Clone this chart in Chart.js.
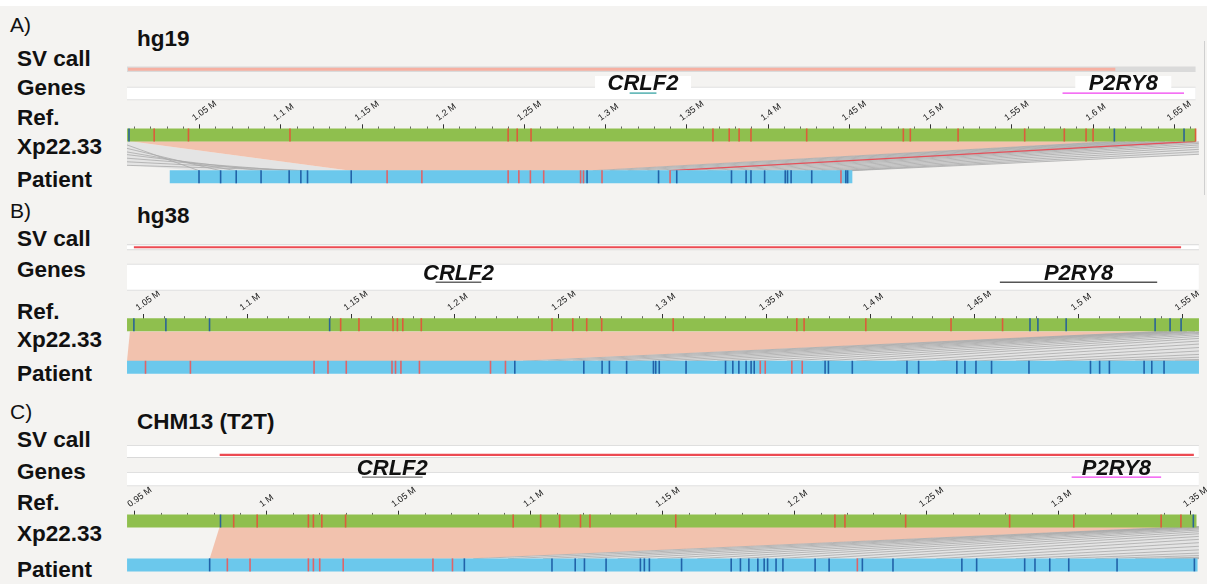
<!DOCTYPE html>
<html>
<head>
<meta charset="utf-8">
<script src="https://cdn.jsdelivr.net/npm/chart.js@4.4.1/dist/chart.umd.min.js"></script>
<style>
  body { margin: 0; background: #fff; font-family: 'Liberation Sans', Arial, sans-serif; }
  #page { position: relative; width: 1207px; height: 584px; overflow: hidden; }
  #bg { position: absolute; left: 0; top: 6px; width: 1207px; height: 578px; background: #f4f3f1; }
  #edgeA { position: absolute; left: 1204px; top: 41px; width: 1px; height: 154px; background: #cfcfcf; }
  canvas { position: absolute; left: 0; }
  .lbl { position: absolute; left: 17px; font-size: 22.5px; font-weight: bold; line-height: 22.5px; color: #111; white-space: nowrap; }
  .ttl { position: absolute; left: 137px; font-size: 22.5px; font-weight: bold; line-height: 22.5px; color: #111; white-space: nowrap; }
  .tag { position: absolute; left: 10px; font-size: 21px; line-height: 21px; color: #111; }
</style>
</head>
<body>
<div id="page">
  <div id="bg"></div>
  <div id="edgeA"></div>

  <div class="tag" style="top:13.7px">A)</div>
  <div class="ttl" style="top:28px">hg19</div>
  <div class="lbl" style="top:47.5px">SV call</div>
  <div class="lbl" style="top:77px">Genes</div>
  <div class="lbl" style="top:107px">Ref.</div>
  <div class="lbl" style="top:136px">Xp22.33</div>
  <div class="lbl" style="top:169.3px">Patient</div>

  <div class="tag" style="top:199.9px">B)</div>
  <div class="ttl" style="top:205.3px">hg38</div>
  <div class="lbl" style="top:227.7px">SV call</div>
  <div class="lbl" style="top:259.3px">Genes</div>
  <div class="lbl" style="top:301px">Ref.</div>
  <div class="lbl" style="top:329.3px">Xp22.33</div>
  <div class="lbl" style="top:362.7px">Patient</div>

  <div class="tag" style="top:400.5px">C)</div>
  <div class="ttl" style="top:411px">CHM13 (T2T)</div>
  <div class="lbl" style="top:429.3px">SV call</div>
  <div class="lbl" style="top:461px">Genes</div>
  <div class="lbl" style="top:492px">Ref.</div>
  <div class="lbl" style="top:522.7px">Xp22.33</div>
  <div class="lbl" style="top:558.7px">Patient</div>

  <canvas id="chartA" width="1207" height="195" style="top:0px"></canvas>
  <canvas id="chartB" width="1207" height="195" style="top:195px"></canvas>
  <canvas id="chartC" width="1207" height="194" style="top:390px"></canvas>
</div>
<script>
// positions are in Mb along Xp22.33

// ---- A) hg19 ----
const ticksA = [1.05, 1.1, 1.15, 1.2, 1.25, 1.3, 1.35, 1.4, 1.45, 1.5, 1.55, 1.6, 1.65];
const tickLabelsA = ['1.05 M', '1.1 M', '1.15 M', '1.2 M', '1.25 M', '1.3 M', '1.35 M', '1.4 M', '1.45 M', '1.5 M', '1.55 M', '1.6 M', '1.65 M'];
const svCallA = [1.0059, 1.6137];
const geneNamesA = ['CRLF2', 'P2RY8'];
const geneStartA = [1.3147, 1.5812];
const geneEndA = [1.3312, 1.6560];
const refSpanA = [1.0053, 1.6631];
const refRedA = [1.0220, 1.0431, 1.1056, 1.2399, 1.2455, 1.2540, 1.3660, 1.3760, 1.3821, 1.3894, 1.4237, 1.4832, 1.4875, 1.5169, 1.5579, 1.5823, 1.5957, 1.6000, 1.6631];
const refBlueA = [1.0065, 1.6131, 1.6560];
const patSpanA = [1.0316, 1.4518];
const patRedA = [1.1654, 1.1868, 1.2399, 1.2465, 1.2536, 1.2618, 1.2845, 1.2863, 1.2977, 1.3396, 1.4448];
const patBlueA = [1.0496, 1.0629, 1.0725, 1.0878, 1.1051, 1.1123, 1.1164, 1.1433, 1.2885, 1.3325, 1.3437, 1.3774, 1.3864, 1.3894, 1.3978, 1.4105, 1.4119, 1.4141, 1.4268, 1.4478, 1.4489];
const blockRefA = [1.0071, 1.6137];
const blockPatA = [1.1431, 1.2890];
const linkRefA = [0.999, 0.987, 0.967, 0.937, 0.870, 0.759, 0.506,
  1.6149, 1.6198, 1.6259, 1.6321, 1.6382, 1.6443, 1.6504, 1.6566, 1.6627, 1.6719, 1.6841, 1.6995, 1.7209, 1.7485, 1.7852, 1.8343];
const linkPatA = [1.0496, 1.0629, 1.0725, 1.0878, 1.1051, 1.1123, 1.1164,
  1.2920, 1.3024, 1.3135, 1.3257, 1.3380, 1.3502, 1.3625, 1.3747, 1.3870, 1.3992, 1.4115, 1.4225, 1.4329, 1.4421, 1.4483, 1.4513];
const redLinkRefA = [1.6631];
const redLinkPatA = [1.3396];

// ---- B) hg38 ----
const ticksB = [1.05, 1.1, 1.15, 1.2, 1.25, 1.3, 1.35, 1.4, 1.45, 1.5, 1.55];
const tickLabelsB = ['1.05 M', '1.1 M', '1.15 M', '1.2 M', '1.25 M', '1.3 M', '1.35 M', '1.4 M', '1.45 M', '1.5 M', '1.55 M'];
const svCallB = [1.0455, 1.5494];
const geneNamesB = ['CRLF2', 'P2RY8'];
const geneStartB = [1.1907, 1.4622];
const geneEndB = [1.2127, 1.5379];
const refSpanB = [1.0422, 1.5580];
const refRedB = [1.1450, 1.1538, 1.1702, 1.1723, 1.1749, 1.1838, 1.2467, 1.2567, 1.2634, 1.2706, 1.3050, 1.3645, 1.3680, 1.3977, 1.4387, 1.4635];
const refBlueB = [1.0455, 1.0609, 1.0819, 1.1397, 1.4767, 1.4805, 1.4941, 1.5369, 1.5441, 1.5494];
const patSpanB = [1.0422, 1.5580];
const patRedB = [1.0511, 1.0727, 1.1322, 1.1389, 1.1477, 1.1697, 1.1714, 1.1740, 1.1829, 1.2171, 1.2243, 1.3469, 1.3493, 1.3621, 1.3671];
const patBlueB = [1.2288, 1.2620, 1.2708, 1.2743, 1.2826, 1.2955, 1.2966, 1.2983, 1.3112, 1.3302, 1.3337, 1.3366, 1.3401, 1.3425, 1.3440, 1.3781, 1.3797, 1.3912, 1.4175, 1.4231, 1.4415, 1.4454, 1.4507, 1.4582, 1.4762, 1.5058, 1.5102, 1.5149, 1.5316, 1.5353, 1.5412];
const blockRefB = [1.0436, 1.5393];
const blockPatB = [1.0422, 1.2290];
const linkRefB = [1.5407, 1.5426, 1.5455, 1.5489, 1.5522, 1.5561, 1.5608, 1.5666, 1.5733, 1.5824, 1.5944, 1.6087, 1.6279, 1.6518, 1.6854, 1.7285, 1.7955, 1.8913, 2.0828, 2.4181];
const linkPatB = [1.2328, 1.2448, 1.2567, 1.2687, 1.2831, 1.2975, 1.3118, 1.3262, 1.3429, 1.3597, 1.3765, 1.3932, 1.4124, 1.4315, 1.4507, 1.4699, 1.4890, 1.5082, 1.5273, 1.5465];
const redLinkRefB = [];
const redLinkPatB = [];

// ---- C) CHM13 (T2T) ----
const ticksC = [0.95, 1, 1.05, 1.1, 1.15, 1.2, 1.25, 1.3, 1.35];
const tickLabelsC = ['0.95 M', '1 M', '1.05 M', '1.1 M', '1.15 M', '1.2 M', '1.25 M', '1.3 M', '1.35 M'];
const svCallC = [0.9821, 1.3512];
const geneNamesC = ['CRLF2', 'P2RY8'];
const geneStartC = [1.0360, 1.3049];
const geneEndC = [1.0590, 1.3388];
const refSpanC = [0.9470, 1.3522];
const refRedC = [0.9874, 0.9963, 1.0157, 1.0176, 1.0208, 1.0298, 1.0933, 1.1037, 1.1109, 1.1188, 1.1224, 1.1549, 1.2152, 1.2190, 1.2420, 1.2814, 1.3057, 1.3388, 1.3463];
const refBlueC = [0.9824, 1.3510];
const patSpanC = [0.9470, 1.3526];
const patRedC = [0.9850, 0.9936, 1.0157, 1.0176, 1.0200, 1.0289, 1.0629, 1.0703, 1.2237];
const patBlueC = [0.9783, 1.0748, 1.1080, 1.1168, 1.1203, 1.1285, 1.1415, 1.1430, 1.1449, 1.1571, 1.1759, 1.1794, 1.1826, 1.1860, 1.1884, 1.1897, 1.1929, 1.1955, 1.2077, 1.2130, 1.2256, 1.2372, 1.2633, 1.2689, 1.2871, 1.2910, 1.2966, 1.3038, 1.3221, 1.3514];
const blockRefC = [0.9821, 1.3497];
const blockPatC = [0.9783, 1.0752];
const linkRefC = [1.3505, 1.3516, 1.3531, 1.3554, 1.3584, 1.3622, 1.3675, 1.3742, 1.3837, 1.3950, 1.4101, 1.4289, 1.4534, 1.4874, 1.5364, 1.6080, 1.7099, 1.8796, 2.1435, 2.5960];
const linkPatC = [1.0782, 1.0914, 1.1046, 1.1178, 1.1329, 1.1480, 1.1631, 1.1781, 1.1932, 1.2083, 1.2234, 1.2385, 1.2536, 1.2686, 1.2837, 1.2988, 1.3139, 1.3290, 1.3403, 1.3509];
const redLinkRefC = [];
const redLinkPatC = [];

const green = '#8fbf4e';
const blue = '#6bc8ec';
const pink = '#f2c2ae';
const refRed = '#dc5c3c';
const refBlue = '#2b6496';
const patRed = '#df6468';
const patBlue = '#2162a8';

Chart.defaults.font.family = "'Liberation Sans', Arial, sans-serif";

// helpers that turn the arrays into datasets
function band(x0, x1, y, w, color) {
  return { data: [{x: x0, y: y}, {x: x1, y: y}], showLine: true, borderColor: color, borderWidth: w,
    borderCapStyle: 'butt', pointRadius: 0, clip: false };
}

function marks(xs, y, h, color) {
  return { data: xs.map(x => ({x: x, y: y})), showLine: false, pointStyle: 'line', pointRotation: 90,
    pointRadius: h / 2, pointBorderColor: color, pointBorderWidth: 1.6, clip: false };
}

function shape(pts, color) {
  return { data: pts, showLine: true, fill: 'shape', backgroundColor: color, borderWidth: 0,
    pointRadius: 0, tension: 0, clip: 0 };
}

function links(refs, pats, yTop, yBot, color, w) {
  const pts = [];
  refs.forEach((r, i) => {
    pts.push({x: r, y: yTop}, {x: pats[i], y: yBot}, {x: pats[i], y: null});
  });
  return { data: pts, showLine: true, spanGaps: false, borderColor: color, borderWidth: w, pointRadius: 0, clip: 0 };
}

function gene(x0, x1, y, color, arrow) {
  return { data: [{x: x0, y: y}, {x: x1, y: y}], showLine: true, borderColor: color, borderWidth: 1.3,
    pointStyle: arrow ? ['triangle', 'line'] : ['line', 'line'], pointRotation: arrow ? [-90, 90] : [90, 90],
    pointRadius: arrow ? [3.5, 3] : [3, 3], pointBorderColor: color,
    pointBackgroundColor: arrow ? 'rgba(0,0,0,0)' : color,
    pointBorderWidth: 1.2, clip: false };
}

const geneLabels = {
  id: 'geneLabels',
  afterDatasetsDraw(chart, args, opts) {
    const ctx = chart.ctx;
    const xs = chart.scales.x, ys = chart.scales.y;
    ctx.save();
    opts.names.forEach((name, i) => {
      const cx = xs.getPixelForValue((opts.starts[i] + opts.ends[i]) / 2);
      if (opts.box) {
        const t = ys.getPixelForValue(opts.box[0]);
        const b = ys.getPixelForValue(opts.box[1]);
        ctx.fillStyle = '#ffffff';
        ctx.fillRect(cx - 48, t, 96, b - t);
      }
      ctx.fillStyle = '#111';
      ctx.font = "italic bold 22px 'Liberation Sans', Arial, sans-serif";
      ctx.textAlign = 'center';
      ctx.textBaseline = 'alphabetic';
      ctx.fillText(name, cx, ys.getPixelForValue(opts.textY));
    });
    ctx.restore();
  }
};

function makePanel(id, p) {
  const ds = [];
  // SV call track
  if (p.svStyle === 'pale') {
    ds.push(band(p.min, p.refSpan[1], p.svY, 5.5, '#dadada'));
    ds.push(band(p.sv[0], p.sv[1], p.svY, 3, '#f6b0a2'));
  } else {
    ds.push(band(p.min, p.max, p.svBandY, p.svBandH + 1.6, '#d9d9d9'));
    ds.push(band(p.min, p.max, p.svBandY, p.svBandH, '#ffffff'));
    ds.push(band(p.sv[0], p.sv[1], p.svY, 2.2, '#ec4a52'));
  }
  // genes track
  ds.push(band(p.min, p.genesEnd, p.genesY, p.genesH + 2, '#e0e0e0'));
  ds.push(band(p.min, p.genesEnd, p.genesY, p.genesH, '#ffffff'));
  p.geneStart.forEach((s, i) => ds.push(gene(s, p.geneEnd[i], p.geneLineY, p.geneColors[i], p.arrows)));
  // alignment between reference and patient
  p.fans.forEach(f => ds.push(shape(f, '#e4e4e4')));
  ds.push(shape([
    {x: p.blockRef[0], y: p.linkTop}, {x: p.blockRef[1], y: p.linkTop},
    {x: p.blockPat[1], y: p.linkBot}, {x: p.blockPat[0], y: p.linkBot}
  ], pink));
  ds.push(links(p.linkRef, p.linkPat, p.linkTop, p.linkBot, '#a9a9a9', 0.8));
  if (p.redRef.length) ds.push(links(p.redRef, p.redPat, p.linkTop, p.linkBot, '#e5505a', 1.3));
  // reference
  ds.push(band(p.refSpan[0], p.refSpan[1], p.refY, 13, green));
  ds.push(marks(p.refRed, p.refY, 13, refRed));
  ds.push(marks(p.refBlue, p.refY, 13, refBlue));
  // patient
  ds.push(band(p.patSpan[0], p.patSpan[1], p.patY, 13, blue));
  ds.push(marks(p.patRed, p.patY, 13, patRed));
  ds.push(marks(p.patBlue, p.patY, 13, patBlue));
  ds.forEach((d, i) => { d.order = -i; });

  const isMajor = v => p.ticks.some(t => Math.abs(t - v) < 1e-6);

  return new Chart(document.getElementById(id), {
    type: 'scatter',
    data: { datasets: ds },
    options: {
      responsive: false,
      animation: false,
      events: [],
      devicePixelRatio: 1,
      layout: { padding: { top: p.refTop - p.top - 30, left: 127, right: 3, bottom: 0 } },
      plugins: {
        legend: { display: false },
        tooltip: { enabled: false },
        geneLabels: { names: p.geneNames, starts: p.geneStart, ends: p.geneEnd, textY: p.geneTextY, box: p.box }
      },
      scales: {
        x: {
          type: 'linear',
          position: 'top',
          min: p.min,
          max: p.max,
          afterFit: s => { s.height = 30; s.paddingLeft = 0; s.paddingRight = 0; },
          afterBuildTicks: s => {
            s.ticks = s.ticks.filter(t => Math.abs(t.value * 100 - Math.round(t.value * 100)) < 1e-6);
          },
          border: { display: false },
          grid: {
            drawOnChartArea: false,
            tickLength: 5,
            tickWidth: 1,
            tickColor: c => isMajor(c.tick.value) ? '#333' : '#666',
            tickBorderDash: c => isMajor(c.tick.value) ? [] : [0, 2.2, 3, 0]
          },
          ticks: {
            stepSize: 0.01,
            includeBounds: false,
            autoSkip: false,
            minRotation: 36,
            maxRotation: 36,
            padding: 1,
            color: '#111',
            font: { size: 9 },
            callback: v => {
              const i = p.ticks.findIndex(t => Math.abs(t - v) < 1e-6);
              return i >= 0 ? p.tickLabels[i] : '';
            }
          }
        },
        y: {
          type: 'linear',
          display: false,
          reverse: true,
          min: p.refTop,
          max: p.top + p.height
        }
      }
    },
    plugins: [geneLabels]
  });
}

const minA = 1.00527, maxA = 1.66515;
const minB = 1.04219, maxB = 1.55797;
const minC = 0.94698, maxC = 1.35311;

makePanel('chartA', {
  top: 0, height: 195, min: minA, max: maxA, refTop: 129.3,
  ticks: ticksA, tickLabels: tickLabelsA,
  svStyle: 'pale', sv: svCallA, svY: 60.8,
  genesY: 88.5, genesH: 11.6, genesEnd: refSpanA[1], geneLineY: 88, geneTextY: 85, box: [68.5, 83.2],
  geneNames: geneNamesA, geneStart: geneStartA, geneEnd: geneEndA, geneColors: ['#37a3a3', '#f040f0'], arrows: false,
  refSpan: refSpanA, refY: 135.8, refRed: refRedA, refBlue: refBlueA,
  patSpan: patSpanA, patY: 183.5, patRed: patRedA, patBlue: patBlueA,
  linkTop: 143, linkBot: 176.5, blockRef: blockRefA, blockPat: blockPatA,
  linkRef: linkRefA, linkPat: linkPatA, redRef: redLinkRefA, redPat: redLinkPatA,
  fans: [
    [{x: minA, y: 143}, {x: blockRefA[0], y: 143}, {x: blockPatA[0], y: 176.5}, {x: linkPatA[0], y: 176.5}, {x: minA, y: 170}],
    [{x: blockRefA[1], y: 143}, {x: maxA, y: 143}, {x: maxA, y: 158}, {x: patSpanA[1], y: 176.5}, {x: blockPatA[1], y: 176.5}]
  ]
});

makePanel('chartB', {
  top: 195, height: 195, min: minB, max: maxB, refTop: 319,
  ticks: ticksB, tickLabels: tickLabelsB,
  svStyle: 'red', sv: svCallB, svY: 238, svBandY: 238, svBandH: 4.2,
  genesY: 271.8, genesH: 25, genesEnd: maxB, geneLineY: 277.5, geneTextY: 275, box: null,
  geneNames: geneNamesB, geneStart: geneStartB, geneEnd: geneEndB, geneColors: ['#666666', '#555555'], arrows: true,
  refSpan: refSpanB, refY: 325.5, refRed: refRedB, refBlue: refBlueB,
  patSpan: patSpanB, patY: 373.5, patRed: patRedB, patBlue: patBlueB,
  linkTop: 333, linkBot: 366.5, blockRef: blockRefB, blockPat: blockPatB,
  linkRef: linkRefB, linkPat: linkPatB, redRef: redLinkRefB, redPat: redLinkPatB,
  fans: [
    [{x: blockRefB[1], y: 333}, {x: maxB, y: 333}, {x: maxB, y: 366.5}, {x: blockPatB[1], y: 366.5}]
  ]
});

makePanel('chartC', {
  top: 390, height: 194, min: minC, max: maxC, refTop: 515.7,
  ticks: ticksC, tickLabels: tickLabelsC,
  svStyle: 'red', sv: svCallC, svY: 446.6, svBandY: 443, svBandH: 11,
  genesY: 474.2, genesH: 12.3, genesEnd: maxC, geneLineY: 472, geneTextY: 469.5, box: null,
  geneNames: geneNamesC, geneStart: geneStartC, geneEnd: geneEndC, geneColors: ['#777777', '#f040f0'], arrows: false,
  refSpan: refSpanC, refY: 521.7, refRed: refRedC, refBlue: refBlueC,
  patSpan: patSpanC, patY: 571.5, patRed: patRedC, patBlue: patBlueC,
  linkTop: 528, linkBot: 564.5, blockRef: blockRefC, blockPat: blockPatC,
  linkRef: linkRefC, linkPat: linkPatC, redRef: redLinkRefC, redPat: redLinkPatC,
  fans: [
    [{x: blockRefC[1], y: 528}, {x: maxC, y: 528}, {x: maxC, y: 564.5}, {x: blockPatC[1], y: 564.5}]
  ]
});
</script>
</body>
</html>
